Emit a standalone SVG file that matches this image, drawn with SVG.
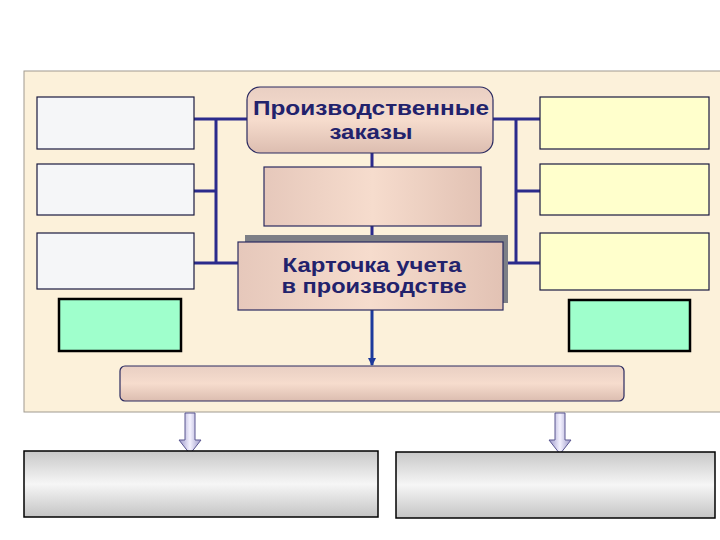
<svg xmlns="http://www.w3.org/2000/svg" width="720" height="540" viewBox="0 0 720 540">
<defs>
<linearGradient id="peach" x1="0" y1="0" x2="0" y2="1">
<stop offset="0" stop-color="#e9cfc3"/><stop offset="0.5" stop-color="#f6dccd"/><stop offset="1" stop-color="#dcbdb0"/>
</linearGradient>
<linearGradient id="peachH" x1="0" y1="0" x2="1" y2="0">
<stop offset="0" stop-color="#e6c8bb"/><stop offset="0.5" stop-color="#f6dccd"/><stop offset="1" stop-color="#e2c2b4"/>
</linearGradient>
<linearGradient id="gray" x1="0" y1="0" x2="0" y2="1">
<stop offset="0" stop-color="#c8c8c8"/><stop offset="0.5" stop-color="#f6f6f6"/><stop offset="1" stop-color="#c4c4c4"/>
</linearGradient>
<linearGradient id="lav" x1="0" y1="0" x2="1" y2="0">
<stop offset="0" stop-color="#9a96c8"/><stop offset="0.5" stop-color="#f4f2ff"/><stop offset="1" stop-color="#9a96c8"/>
</linearGradient>
<marker id="ah" markerWidth="8" markerHeight="8" refX="7" refY="4" orient="auto" markerUnits="userSpaceOnUse">
<path d="M0,0 L8,4 L0,8 Z" fill="#1c3a9c"/>
</marker>
<style>
.panel{fill:#fcf1da;stroke:#a09a90;stroke-width:1}
.lbox{fill:#f5f6f8;stroke:#1a1a40;stroke-width:1.2}
.rbox{fill:#ffffcc;stroke:#1a1a40;stroke-width:1.2}
.gbox{fill:#9fffcc;stroke:#000;stroke-width:2.5}
.pbox{stroke:#2a2a60;stroke-width:1.2}
.conn{fill:none;stroke:#2b2b8c;stroke-width:3}
.txt{font-family:"Liberation Sans",Arial,sans-serif;font-weight:bold;font-size:21px;fill:#22226c;text-anchor:middle}
.bbox{fill:url(#gray);stroke:#000;stroke-width:1.5}
.barrow{fill:url(#lav);stroke:#5a5690;stroke-width:1}
</style>
</defs>
<rect class="panel" x="24" y="71" width="700" height="341"/>
<g id="connectors">
<path class="conn" d="M194,119 H248 M216,119 V263 M194,191 H216 M194,263 H240"/>
<path class="conn" d="M493,119 H540 M516,119 V263 M516,191 H540 M503,263 H540"/>
<path class="conn" d="M372,153 V167 M372,226 V236"/>
<path d="M372,310 V365" stroke="#1c3a9c" stroke-width="3" fill="none" marker-end="url(#ah)"/>
<path class="barrow" d="M185,413 H195 V440 H201 L190,454 L179,440 H185 Z"/>
<path class="barrow" d="M555,413 H565 V440 H571 L560,454 L549,440 H555 Z"/>
</g>
<g id="l1"><rect class="lbox" x="37" y="97" width="157" height="52"/></g>
<g id="l2"><rect class="lbox" x="37" y="164" width="157" height="51"/></g>
<g id="l3"><rect class="lbox" x="37" y="233" width="157" height="56"/></g>
<g id="l4"><rect class="gbox" x="59" y="299" width="122" height="52"/></g>
<g id="r1"><rect class="rbox" x="540" y="97" width="169" height="52"/></g>
<g id="r2"><rect class="rbox" x="540" y="164" width="169" height="51"/></g>
<g id="r3"><rect class="rbox" x="540" y="233" width="169" height="57"/></g>
<g id="r4"><rect class="gbox" x="569" y="300" width="121" height="51"/></g>
<g id="orders">
<rect class="pbox" x="247" y="87" width="246" height="66" rx="13" fill="url(#peach)"/>
<text class="txt" x="371" y="115" textLength="236" lengthAdjust="spacingAndGlyphs">Производственные</text>
<text class="txt" x="371" y="139" textLength="83" lengthAdjust="spacingAndGlyphs">заказы</text>
</g>
<g id="mid"><rect class="pbox" x="264" y="167" width="217" height="59" fill="url(#peachH)"/></g>
<g id="card">
<rect x="245" y="235" width="263" height="68" fill="#7d7f86"/>
<rect class="pbox" x="238" y="242" width="265" height="68" fill="url(#peachH)"/>
<text class="txt" x="372" y="272" textLength="179" lengthAdjust="spacingAndGlyphs">Карточка учета</text>
<text class="txt" x="374" y="293" textLength="185" lengthAdjust="spacingAndGlyphs">в производстве</text>
</g>
<g id="wide"><rect class="pbox" x="120" y="366" width="504" height="35" rx="5" fill="url(#peach)"/></g>
<g id="b1"><rect class="bbox" x="24" y="451" width="354" height="66"/></g>
<g id="b2"><rect class="bbox" x="396" y="452" width="319" height="66"/></g>
</svg>
